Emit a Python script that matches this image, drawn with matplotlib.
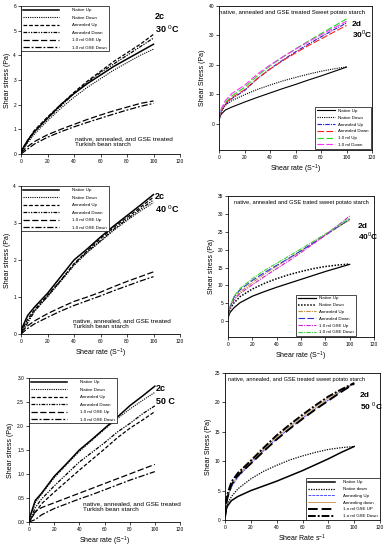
import numpy as np
import matplotlib
matplotlib.use("Agg")
import matplotlib.pyplot as plt

plt.rcParams["font.family"] = ["Liberation Sans", "DejaVu Sans"]
plt.rcParams["mathtext.fontset"] = "custom"
plt.rcParams["mathtext.rm"] = "Liberation Sans"

# Turkish bean starch (2c) shear rate points
bean_rate = [0, 5, 10, 20, 30, 40, 50, 60, 70, 80, 90, 100]

bean30_native_up = [0.1, 0.55, 0.9, 1.45, 2.0, 2.45, 2.85, 3.2, 3.55, 3.85, 4.15, 4.45]
bean30_native_down = [0.05, 0.45, 0.8, 1.35, 1.85, 2.3, 2.7, 3.05, 3.4, 3.7, 4.0, 4.25]
bean30_ann_up = [0.1, 0.55, 0.95, 1.5, 2.0, 2.5, 2.95, 3.35, 3.75, 4.1, 4.45, 4.85]
bean30_ann_down = [0.05, 0.5, 0.9, 1.45, 1.95, 2.45, 2.9, 3.3, 3.65, 4.0, 4.35, 4.7]
bean30_gse_up = [0.05, 0.3, 0.5, 0.78, 1.0, 1.2, 1.4, 1.58, 1.75, 1.9, 2.05, 2.15]
bean30_gse_down = [0.0, 0.2, 0.4, 0.68, 0.9, 1.1, 1.28, 1.45, 1.62, 1.78, 1.93, 2.05]

bean40_native_up = [0.1, 0.5, 0.72, 1.1, 1.55, 2.0, 2.3, 2.62, 2.92, 3.2, 3.48, 3.77]
bean40_native_down = [0.05, 0.35, 0.62, 1.0, 1.42, 1.85, 2.2, 2.5, 2.8, 3.07, 3.32, 3.55]
bean40_ann_up = [0.05, 0.4, 0.65, 1.05, 1.45, 1.9, 2.25, 2.58, 2.88, 3.15, 3.42, 3.7]
bean40_ann_down = [0.0, 0.3, 0.6, 1.02, 1.45, 1.88, 2.22, 2.52, 2.83, 3.1, 3.37, 3.62]
bean40_gse_up = [0.05, 0.22, 0.35, 0.55, 0.72, 0.88, 1.0, 1.13, 1.28, 1.42, 1.55, 1.68]
bean40_gse_down = [0.0, 0.15, 0.27, 0.45, 0.62, 0.77, 0.9, 1.03, 1.17, 1.3, 1.43, 1.55]

bean50_native_up = [0.05, 0.45, 0.6, 0.95, 1.22, 1.5, 1.72, 1.95, 2.18, 2.42, 2.62, 2.83]
bean50_native_down = [0.05, 0.4, 0.58, 0.92, 1.2, 1.47, 1.7, 1.93, 2.15, 2.35, 2.53, 2.7]
bean50_ann_up = [0.0, 0.2, 0.38, 0.62, 0.85, 1.08, 1.3, 1.52, 1.75, 1.95, 2.12, 2.3]
bean50_ann_down = [0.0, 0.3, 0.48, 0.75, 1.0, 1.25, 1.45, 1.65, 1.87, 2.05, 2.25, 2.42]
bean50_gse_up = [0.0, 0.22, 0.3, 0.4, 0.5, 0.6, 0.7, 0.8, 0.9, 1.0, 1.1, 1.2]
bean50_gse_down = [0.0, 0.05, 0.15, 0.28, 0.38, 0.48, 0.57, 0.67, 0.77, 0.87, 0.96, 1.05]

# Sweet potato starch (2d) shear rate points
potato_rate = [0, 1, 2, 5, 10, 20, 30, 40, 50, 60, 70, 80, 90, 100]

pot30_native_up = [1.0, 2.6, 3.3, 4.6, 5.6, 7.3, 8.9, 10.4, 11.9, 13.3, 14.8, 16.2, 17.7, 19.2]
pot30_native_down = [1.5, 3.2, 4.2, 6.2, 7.8, 9.8, 11.6, 13.1, 14.5, 15.7, 16.8, 17.8, 18.6, 19.3]
pot30_ann_up = [1.5, 3.5, 4.5, 6.5, 8.5, 11.2, 15.2, 18.6, 21.6, 24.4, 27.0, 29.5, 31.9, 34.2]
pot30_ann_down = [1.5, 3.5, 4.5, 6.8, 8.8, 11.5, 15.3, 18.5, 21.4, 24.0, 26.5, 28.8, 31.1, 33.4]
pot30_gse_up = [1.5, 3.8, 5.0, 7.2, 9.4, 12.3, 16.2, 19.6, 22.6, 25.4, 28.0, 30.6, 33.1, 35.6]
pot30_gse_down = [1.5, 4.0, 5.2, 7.8, 10.2, 13.0, 16.8, 19.9, 22.7, 25.3, 27.8, 30.2, 32.5, 34.8]

pot40_native_up = [0.8, 2.0, 2.6, 3.8, 5.2, 7.0, 8.3, 9.5, 10.6, 11.7, 12.8, 13.9, 14.9, 15.9]
pot40_native_down = [1.0, 2.8, 3.6, 5.2, 6.9, 9.0, 10.6, 11.9, 13.0, 13.9, 14.7, 15.3, 15.7, 16.0]
pot40_ann_up = [1.0, 3.0, 4.0, 6.2, 8.2, 10.8, 13.2, 15.4, 17.5, 19.6, 21.8, 24.0, 26.2, 28.3]
pot40_ann_down = [1.0, 3.2, 4.3, 6.8, 8.8, 11.4, 13.6, 15.6, 17.6, 19.7, 21.9, 24.1, 26.3, 28.5]
pot40_gse_up = [1.0, 3.0, 4.0, 6.0, 7.8, 10.2, 12.5, 14.7, 16.9, 19.2, 21.6, 24.1, 26.7, 29.4]
pot40_gse_down = [1.0, 3.3, 4.5, 7.0, 9.2, 11.9, 14.2, 16.2, 18.2, 20.2, 22.3, 24.4, 26.6, 28.8]

pot50_native_up = [0.5, 1.8, 2.4, 3.3, 4.0, 5.0, 5.8, 6.6, 7.5, 8.4, 9.4, 10.4, 11.5, 12.5]
pot50_native_down = [0.5, 2.0, 2.8, 4.0, 5.3, 7.0, 8.3, 9.3, 10.2, 10.9, 11.5, 12.0, 12.3, 12.5]
pot50_ann_up = [0.5, 2.8, 3.8, 5.6, 7.3, 9.6, 11.8, 13.8, 15.6, 17.3, 18.9, 20.4, 21.9, 23.2]
pot50_ann_down = [0.5, 3.0, 4.0, 5.9, 7.6, 9.9, 12.1, 14.1, 15.9, 17.6, 19.2, 20.7, 22.1, 23.3]
pot50_gse_up = [0.5, 2.8, 3.9, 6.0, 7.6, 9.6, 11.7, 13.7, 15.5, 17.2, 18.8, 20.3, 21.8, 23.2]
pot50_gse_down = [0.5, 3.5, 4.5, 6.5, 8.0, 10.1, 12.3, 14.4, 16.2, 17.9, 19.5, 21.0, 22.2, 23.3]

bean_labels = ["Native Up", "Native Down", "Annealed Up", "Annealed Down",
               "1.0 ml GSE Up", "1.0 ml GSE Down"]
pot30_labels = ["Native Up", "Native Down", "Annealed Up", "Annealed Down",
                "1.0 ml Up", "1.0 ml Down"]
pot40_labels = bean_labels
pot50_labels = ["Native Up", "Native down", "Annealing Up", "Annealing down",
                "1.o ml GSE UP", "1.o ml GSE Down"]

bean_styles = [
    dict(color="black", lw=1.1, ls="-"),
    dict(color="black", lw=0.8, ls=(0, (1, 1))),
    dict(color="black", lw=0.9, ls=(0, (3, 1.5))),
    dict(color="black", lw=0.9, ls=(0, (3, 1, 1, 1, 1, 1))),
    dict(color="black", lw=0.9, ls=(0, (5, 2))),
    dict(color="black", lw=0.9, ls=(0, (5, 1.5, 1.5, 1.5))),
]
pot30_styles = [
    dict(color="black", lw=0.8, ls="-"),
    dict(color="black", lw=0.8, ls=(0, (1, 1))),
    dict(color="#2020d0", lw=0.8, ls=(0, (4, 1, 1, 1))),
    dict(color="#ff2020", lw=0.8, ls=(0, (6, 2))),
    dict(color="#20e020", lw=0.8, ls=(0, (6, 2))),
    dict(color="#ff30ff", lw=0.8, ls=(0, (6, 2))),
]
pot40_styles = [
    dict(color="black", lw=0.9, ls="-"),
    dict(color="black", lw=1.1, ls=(0, (1, 1))),
    dict(color="#c89040", lw=0.8, ls=(0, (4, 1, 1, 1))),
    dict(color="#3030d0", lw=0.8, ls=(0, (6, 2))),
    dict(color="#d020d0", lw=0.8, ls=(0, (4, 1, 1, 1))),
    dict(color="#40d040", lw=0.8, ls=(0, (4, 1, 1, 1))),
]
pot50_styles = [
    dict(color="black", lw=1.1, ls="-"),
    dict(color="black", lw=0.9, ls=(0, (1, 1))),
    dict(color="#5050ff", lw=0.7, ls=(0, (3, 1))),
    dict(color="#d0a060", lw=0.7, ls="-"),
    dict(color="black", lw=1.4, ls=(0, (5, 2))),
    dict(color="black", lw=1.4, ls=(0, (4, 1, 1, 1))),
]

W, H = 387, 550
fig = plt.figure(figsize=(W / 100, H / 100), dpi=100)


def panel(l, t, r, b):
    return fig.add_axes([l / W, 1 - b / H, (r - l) / W, (b - t) / H])


def draw(ax, x, series, labels, styles):
    for y, lab, st in zip(series, labels, styles):
        ax.plot(x, y, label=lab, **st)
    ax.tick_params(labelsize=3.5, length=2, width=0.5, pad=1.5)
    for s in ax.spines.values():
        s.set_linewidth(0.6)
    ax.set_xlim(0, 120)
    ax.set_xticks(range(0, 121, 20))


def bean_panel(ax, series, ymax, yticks, temp, ylab_fmt=None):
    draw(ax, bean_rate, series, bean_labels, bean_styles)
    ax.spines["top"].set_visible(False)
    ax.spines["right"].set_visible(False)
    ax.set_ylim(0, ymax)
    ax.set_yticks(yticks)
    if ylab_fmt:
        ax.set_yticklabels([ylab_fmt % v for v in yticks])
    ax.set_ylabel("Shear stress (Pa)", fontsize=5, labelpad=2)
    leg = ax.legend(loc="upper left", fontsize=3.2, handlelength=8, handletextpad=3,
                    labelspacing=0.75, borderaxespad=0.1, fancybox=False,
                    edgecolor="black", framealpha=1)
    leg.get_frame().set_linewidth(0.5)
    ax.text(0.84, 0.91, "2c", transform=ax.transAxes, fontsize=6.5, fontweight="bold")
    ax.text(0.84, 0.82, temp, transform=ax.transAxes, fontsize=6.5, fontweight="bold")


def potato_panel(ax, series, labels, styles, ylim, yticks, title, temp, ylabel, xlabel,
                 title_size):
    draw(ax, potato_rate, series, labels, styles)
    ax.set_ylim(*ylim)
    ax.set_yticks(yticks)
    ax.set_ylabel(ylabel, fontsize=5, labelpad=2)
    ax.set_xlabel(xlabel, fontsize=5, labelpad=2)
    ax.text(0.0, 0.955, title, transform=ax.transAxes, fontsize=title_size, va="center")
    ax.text(0.87, 0.86, "2d", transform=ax.transAxes, fontsize=6, fontweight="bold")
    ax.text(0.87, 0.78, temp, transform=ax.transAxes, fontsize=6, fontweight="bold")


bean_note = "native, annealed, and GSE treated\nTurkish bean starch"

# --- left column: Turkish bean starch ---
ax1 = panel(21, 6, 180, 154)
bean_panel(ax1, [bean30_native_up, bean30_native_down, bean30_ann_up, bean30_ann_down,
                 bean30_gse_up, bean30_gse_down], 6, range(0, 7), r"30 $^{0}$C")
ax1.text(0.34, 0.085, bean_note, transform=ax1.transAxes, fontsize=4.6, va="center",
         linespacing=1.15)

ax3 = panel(21, 186, 180, 334)
bean_panel(ax3, [bean40_native_up, bean40_native_down, bean40_ann_up, bean40_ann_down,
                 bean40_gse_up, bean40_gse_down], 4, range(0, 5), r"40 $^{0}$C")
ax3.set_xlabel("Shear rate (S$^{-1}$)", fontsize=5, labelpad=2)
ax3.text(0.33, 0.07, bean_note, transform=ax3.transAxes, fontsize=4.6, va="center",
         linespacing=1.15)

ax5 = panel(29, 378, 180, 522)
bean_panel(ax5, [bean50_native_up, bean50_native_down, bean50_ann_up, bean50_ann_down,
                 bean50_gse_up, bean50_gse_down], 3.0, [0, 0.5, 1.0, 1.5, 2.0, 2.5, 3.0],
           "50 C", ylab_fmt="%.1f")
ax5.set_xlabel("Shear rate (S$^{-1}$)", fontsize=5, labelpad=2)
ax5.text(0.36, 0.105, bean_note, transform=ax5.transAxes, fontsize=4.6, va="center",
         linespacing=1.15)

# --- right column: sweet potato starch ---
ax2 = panel(219, 6, 372, 150)
potato_panel(ax2, [pot30_native_up, pot30_native_down, pot30_ann_up, pot30_ann_down,
                   pot30_gse_up, pot30_gse_down], pot30_labels, pot30_styles,
             (-9, 40), range(0, 41, 10),
             "native, annealed and GSE treated Sweet potato starch", r"30$^{0}$C",
             "Shear Stress (Pa)", "Shear rate (S$^{-1}$)", 4.3)
leg2 = ax2.legend(loc="lower right", fontsize=3.2, handlelength=4, labelspacing=0.6,
                  borderaxespad=0.3, fancybox=False, edgecolor="black", framealpha=1)
leg2.get_frame().set_linewidth(0.5)

ax4 = panel(228, 196, 374, 337)
potato_panel(ax4, [pot40_native_up, pot40_native_down, pot40_ann_up, pot40_ann_down,
                   pot40_gse_up, pot40_gse_down], pot40_labels, pot40_styles,
             (-4.4, 35), range(0, 36, 5),
             "native, annealed and GSE trated sweet potato starch", r"40$^{0}$C",
             "Shear stress (Pa)", "Shear rate (S$^{-1}$)", 4.15)
ax4.texts[0].set_x(0.04)
ax4.texts[1].set_position((0.89, 0.77))
ax4.texts[2].set_position((0.89, 0.69))
leg4 = ax4.legend(loc="lower right", bbox_to_anchor=(0.88, 0.0), fontsize=3.2,
                  handlelength=4, labelspacing=0.6, borderaxespad=0.2, fancybox=False,
                  edgecolor="black", framealpha=1)
leg4.get_frame().set_linewidth(0.5)

ax6 = panel(225, 373, 380, 520)
potato_panel(ax6, [pot50_native_up, pot50_native_down, pot50_ann_up, pot50_ann_down,
                   pot50_gse_up, pot50_gse_down], pot50_labels, pot50_styles,
             (0, 25), range(0, 26, 5),
             "native, annealed, and GSE treated sweet potato starch", r"50 $^{0}$C",
             "Shear Stress (Pa)", "Shear Rate s$^{-1}$", 4.1)
ax6.texts[0].set_x(0.02)
ax6.texts[1].set_position((0.87, 0.84))
ax6.texts[2].set_position((0.87, 0.75))
leg6 = ax6.legend(loc="lower right", fontsize=3.2, handlelength=6, handletextpad=2,
                  labelspacing=0.6, borderaxespad=0.0, fancybox=False,
                  edgecolor="black", framealpha=1)
leg6.get_frame().set_linewidth(0.5)

fig.savefig("out.png", dpi=100, facecolor="white")
